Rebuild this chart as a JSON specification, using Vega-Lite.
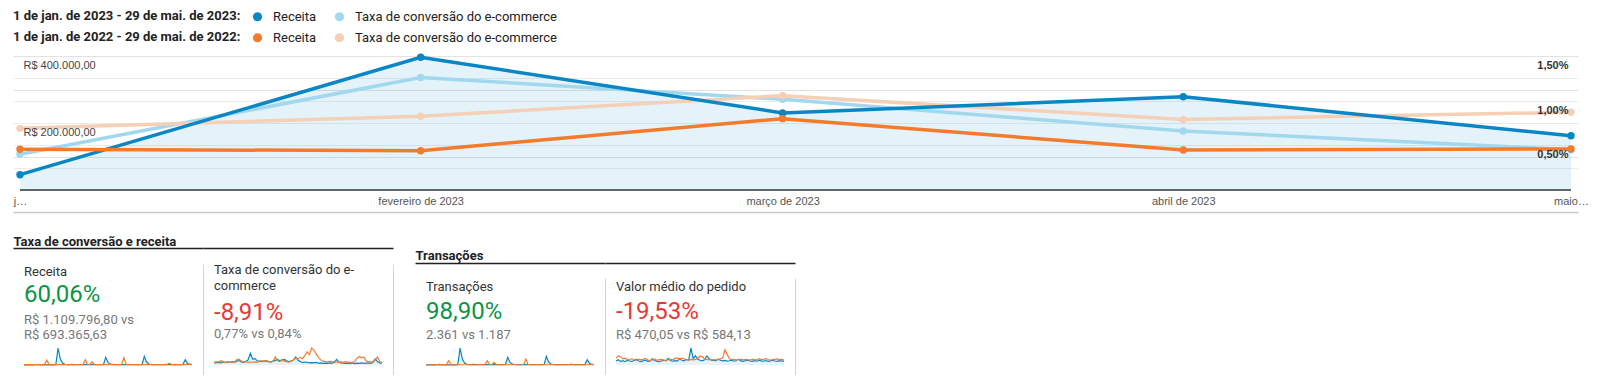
{
  "$schema": "https://vega.github.io/schema/vega-lite/v6.json",
  "background": "white",
  "padding": {"left": 13, "top": 10, "right": 0, "bottom": 0},
  "datasets": {
    "mensal": [
      {"mes": "2023-01-01", "periodo": "2023", "receita": 45700, "taxa": 0.40},
      {"mes": "2023-02-01", "periodo": "2023", "receita": 396100, "taxa": 1.26},
      {"mes": "2023-03-01", "periodo": "2023", "receita": 230000, "taxa": 1.015},
      {"mes": "2023-04-01", "periodo": "2023", "receita": 278500, "taxa": 0.66},
      {"mes": "2023-05-01", "periodo": "2023", "receita": 162100, "taxa": 0.45},
      {"mes": "2023-01-01", "periodo": "2022", "receita": 121500, "taxa": 0.69},
      {"mes": "2023-02-01", "periodo": "2022", "receita": 117300, "taxa": 0.825},
      {"mes": "2023-03-01", "periodo": "2022", "receita": 213000, "taxa": 1.056},
      {"mes": "2023-04-01", "periodo": "2022", "receita": 119400, "taxa": 0.79},
      {"mes": "2023-05-01", "periodo": "2022", "receita": 122400, "taxa": 0.87}
    ],
    "kpis": [
      {"painel": "Receita", "elemento": "métrica", "texto": "Receita"},
      {"painel": "Receita", "elemento": "variação", "texto": "60,06%"},
      {"painel": "Receita", "elemento": "comparação", "texto": ["R$ 1.109.796,80 vs", "R$ 693.365,63"]},
      {"painel": "Taxa", "elemento": "métrica", "texto": ["Taxa de conversão do e-", "commerce"]},
      {"painel": "Taxa", "elemento": "variação", "texto": "-8,91%"},
      {"painel": "Taxa", "elemento": "comparação", "texto": "0,77% vs 0,84%"},
      {"painel": "Transações", "elemento": "métrica", "texto": "Transações"},
      {"painel": "Transações", "elemento": "variação", "texto": "98,90%"},
      {"painel": "Transações", "elemento": "comparação", "texto": "2.361 vs 1.187"},
      {"painel": "Valor", "elemento": "métrica", "texto": "Valor médio do pedido"},
      {"painel": "Valor", "elemento": "variação", "texto": "-19,53%"},
      {"painel": "Valor", "elemento": "comparação", "texto": "R$ 470,05 vs R$ 584,13"}
    ],
    "diario": [
      {"dia": 1, "r23": 1200, "r22": 2500, "c23": 0.5, "c22": 0.6, "t23": 3, "t22": 4, "v23": 420, "v22": 700},
      {"dia": 3, "r23": 2000, "r22": 3000, "c23": 0.55, "c22": 0.8, "t23": 4, "t22": 5, "v23": 560, "v22": 960},
      {"dia": 5, "r23": 1500, "r22": 2800, "c23": 0.6, "c22": 0.7, "t23": 3, "t22": 5, "v23": 380, "v22": 880},
      {"dia": 7, "r23": 1800, "r22": 3200, "c23": 0.5, "c22": 1.0, "t23": 4, "t22": 5, "v23": 450, "v22": 650},
      {"dia": 9, "r23": 1300, "r22": 2600, "c23": 0.7, "c22": 0.8, "t23": 3, "t22": 4, "v23": 350, "v22": 720},
      {"dia": 11, "r23": 2500, "r22": 3000, "c23": 0.55, "c22": 0.6, "t23": 5, "t22": 5, "v23": 500, "v22": 600},
      {"dia": 13, "r23": 5000, "r22": 2800, "c23": 0.8, "c22": 0.75, "t23": 11, "t22": 5, "v23": 420, "v22": 520},
      {"dia": 15, "r23": 1800, "r22": 3400, "c23": 0.6, "c22": 0.65, "t23": 4, "t22": 6, "v23": 380, "v22": 680},
      {"dia": 17, "r23": 1600, "r22": 3000, "c23": 0.75, "c22": 0.8, "t23": 3, "t22": 5, "v23": 470, "v22": 560},
      {"dia": 19, "r23": 1400, "r22": 4000, "c23": 0.6, "c22": 0.7, "t23": 3, "t22": 7, "v23": 600, "v22": 500},
      {"dia": 21, "r23": 1900, "r22": 47000, "c23": 0.9, "c22": 1.2, "t23": 4, "t22": 86, "v23": 420, "v22": 620},
      {"dia": 23, "r23": 2200, "r22": 6000, "c23": 1.05, "c22": 1.35, "t23": 5, "t22": 10, "v23": 360, "v22": 540},
      {"dia": 25, "r23": 1600, "r22": 3000, "c23": 0.7, "c22": 0.9, "t23": 3, "t22": 5, "v23": 450, "v22": 600},
      {"dia": 27, "r23": 1800, "r22": 2800, "c23": 0.6, "c22": 0.7, "t23": 4, "t22": 5, "v23": 500, "v22": 700},
      {"dia": 29, "r23": 2100, "r22": 3100, "c23": 0.8, "c22": 0.8, "t23": 5, "t22": 5, "v23": 380, "v22": 520},
      {"dia": 31, "r23": 160000, "r22": 2900, "c23": 1.2, "c22": 0.6, "t23": 340, "t22": 5, "v23": 420, "v22": 480},
      {"dia": 33, "r23": 55000, "r22": 2700, "c23": 2.75, "c22": 0.7, "t23": 118, "t22": 5, "v23": 650, "v22": 560},
      {"dia": 35, "r23": 18000, "r22": 3200, "c23": 1.4, "c22": 0.65, "t23": 38, "t22": 5, "v23": 480, "v22": 650},
      {"dia": 37, "r23": 7000, "r22": 2800, "c23": 1.5, "c22": 0.75, "t23": 15, "t22": 5, "v23": 400, "v22": 500},
      {"dia": 39, "r23": 4000, "r22": 3000, "c23": 1.0, "c22": 0.6, "t23": 9, "t22": 5, "v23": 350, "v22": 560},
      {"dia": 41, "r23": 3500, "r22": 2900, "c23": 0.9, "c22": 0.9, "t23": 8, "t22": 5, "v23": 420, "v22": 600},
      {"dia": 43, "r23": 5000, "r22": 3100, "c23": 0.8, "c22": 1.0, "t23": 11, "t22": 5, "v23": 520, "v22": 520},
      {"dia": 45, "r23": 3000, "r22": 2700, "c23": 1.0, "c22": 0.8, "t23": 6, "t22": 5, "v23": 450, "v22": 480},
      {"dia": 47, "r23": 2600, "r22": 3000, "c23": 0.9, "c22": 1.1, "t23": 6, "t22": 5, "v23": 700, "v22": 560},
      {"dia": 49, "r23": 3200, "r22": 3300, "c23": 0.8, "c22": 0.85, "t23": 7, "t22": 6, "v23": 480, "v22": 620},
      {"dia": 51, "r23": 2800, "r22": 2900, "c23": 0.7, "c22": 0.75, "t23": 6, "t22": 5, "v23": 400, "v22": 540},
      {"dia": 53, "r23": 3000, "r22": 4000, "c23": 0.9, "c22": 0.9, "t23": 6, "t22": 7, "v23": 460, "v22": 700},
      {"dia": 55, "r23": 3400, "r22": 50000, "c23": 1.1, "c22": 1.9, "t23": 7, "t22": 86, "v23": 420, "v22": 760},
      {"dia": 57, "r23": 2900, "r22": 5000, "c23": 1.3, "c22": 1.0, "t23": 6, "t22": 9, "v23": 650, "v22": 600},
      {"dia": 59, "r23": 3100, "r22": 3200, "c23": 1.0, "c22": 0.8, "t23": 7, "t22": 5, "v23": 500, "v22": 720},
      {"dia": 61, "r23": 2600, "r22": 31000, "c23": 1.2, "c22": 1.3, "t23": 6, "t22": 54, "v23": 450, "v22": 650},
      {"dia": 63, "r23": 3300, "r22": 4000, "c23": 1.3, "c22": 0.9, "t23": 7, "t22": 7, "v23": 600, "v22": 560},
      {"dia": 65, "r23": 2800, "r22": 3000, "c23": 1.0, "c22": 0.8, "t23": 6, "t22": 5, "v23": 520, "v22": 520},
      {"dia": 67, "r23": 3000, "r22": 3300, "c23": 0.8, "c22": 0.7, "t23": 6, "t22": 6, "v23": 1800, "v22": 600},
      {"dia": 69, "r23": 2700, "r22": 2900, "c23": 0.9, "c22": 0.9, "t23": 6, "t22": 5, "v23": 700, "v22": 540},
      {"dia": 71, "r23": 4000, "r22": 3100, "c23": 1.2, "c22": 1.2, "t23": 9, "t22": 5, "v23": 980, "v22": 600},
      {"dia": 73, "r23": 72000, "r22": 3400, "c23": 1.9, "c22": 1.6, "t23": 154, "t22": 6, "v23": 600, "v22": 700},
      {"dia": 75, "r23": 24000, "r22": 3000, "c23": 1.1, "c22": 1.4, "t23": 51, "t22": 5, "v23": 500, "v22": 950},
      {"dia": 77, "r23": 8000, "r22": 3200, "c23": 0.8, "c22": 1.8, "t23": 17, "t22": 5, "v23": 450, "v22": 900},
      {"dia": 79, "r23": 4500, "r22": 2800, "c23": 0.6, "c22": 1.5, "t23": 10, "t22": 5, "v23": 560, "v22": 620},
      {"dia": 81, "r23": 3800, "r22": 3300, "c23": 0.7, "c22": 2.2, "t23": 8, "t22": 6, "v23": 950, "v22": 560},
      {"dia": 83, "r23": 3400, "r22": 3000, "c23": 0.6, "c22": 3.1, "t23": 7, "t22": 5, "v23": 700, "v22": 600},
      {"dia": 85, "r23": 3600, "r22": 3500, "c23": 0.5, "c22": 2.4, "t23": 8, "t22": 6, "v23": 520, "v22": 520},
      {"dia": 87, "r23": 3200, "r22": 5000, "c23": 0.55, "c22": 4.0, "t23": 7, "t22": 9, "v23": 480, "v22": 580},
      {"dia": 89, "r23": 3000, "r22": 69000, "c23": 0.5, "c22": 3.5, "t23": 6, "t22": 120, "v23": 450, "v22": 540},
      {"dia": 91, "r23": 3500, "r22": 6000, "c23": 0.6, "c22": 2.6, "t23": 7, "t22": 10, "v23": 620, "v22": 600},
      {"dia": 93, "r23": 3800, "r22": 3500, "c23": 0.45, "c22": 1.8, "t23": 8, "t22": 6, "v23": 500, "v22": 640},
      {"dia": 95, "r23": 3300, "r22": 3200, "c23": 0.5, "c22": 1.2, "t23": 7, "t22": 5, "v23": 430, "v22": 760},
      {"dia": 97, "r23": 3600, "r22": 3000, "c23": 0.4, "c22": 0.9, "t23": 8, "t22": 5, "v23": 480, "v22": 1610},
      {"dia": 99, "r23": 4000, "r22": 3300, "c23": 0.45, "c22": 0.8, "t23": 9, "t22": 6, "v23": 410, "v22": 1100},
      {"dia": 101, "r23": 3500, "r22": 3100, "c23": 0.4, "c22": 0.7, "t23": 7, "t22": 5, "v23": 450, "v22": 650},
      {"dia": 103, "r23": 3800, "r22": 2900, "c23": 0.5, "c22": 0.9, "t23": 8, "t22": 5, "v23": 520, "v22": 560},
      {"dia": 105, "r23": 4200, "r22": 3400, "c23": 0.45, "c22": 0.75, "t23": 9, "t22": 6, "v23": 400, "v22": 600},
      {"dia": 107, "r23": 82000, "r22": 3200, "c23": 0.6, "c22": 0.8, "t23": 174, "t22": 5, "v23": 470, "v22": 520},
      {"dia": 109, "r23": 28000, "r22": 3000, "c23": 1.3, "c22": 0.7, "t23": 60, "t22": 5, "v23": 620, "v22": 560},
      {"dia": 111, "r23": 9000, "r22": 3300, "c23": 0.7, "c22": 0.6, "t23": 19, "t22": 6, "v23": 430, "v22": 620},
      {"dia": 113, "r23": 5000, "r22": 3500, "c23": 0.5, "c22": 0.75, "t23": 11, "t22": 6, "v23": 380, "v22": 540},
      {"dia": 115, "r23": 4200, "r22": 3100, "c23": 0.45, "c22": 0.65, "t23": 9, "t22": 5, "v23": 450, "v22": 600},
      {"dia": 117, "r23": 3800, "r22": 2900, "c23": 0.4, "c22": 0.8, "t23": 8, "t22": 5, "v23": 520, "v22": 560},
      {"dia": 119, "r23": 4000, "r22": 3200, "c23": 0.45, "c22": 0.7, "t23": 9, "t22": 5, "v23": 420, "v22": 520},
      {"dia": 121, "r23": 3600, "r22": 3400, "c23": 0.4, "c22": 0.6, "t23": 8, "t22": 6, "v23": 380, "v22": 600},
      {"dia": 123, "r23": 3400, "r22": 3000, "c23": 0.5, "c22": 0.65, "t23": 7, "t22": 5, "v23": 460, "v22": 560},
      {"dia": 125, "r23": 3800, "r22": 3300, "c23": 0.35, "c22": 0.8, "t23": 8, "t22": 6, "v23": 400, "v22": 540},
      {"dia": 127, "r23": 3500, "r22": 5000, "c23": 0.45, "c22": 1.6, "t23": 7, "t22": 9, "v23": 520, "v22": 680},
      {"dia": 129, "r23": 3200, "r22": 16000, "c23": 0.4, "c22": 2.0, "t23": 7, "t22": 20, "v23": 440, "v22": 600},
      {"dia": 131, "r23": 3000, "r22": 4000, "c23": 0.5, "c22": 1.7, "t23": 6, "t22": 7, "v23": 400, "v22": 560},
      {"dia": 133, "r23": 3400, "r22": 3200, "c23": 0.4, "c22": 1.9, "t23": 7, "t22": 5, "v23": 470, "v22": 700},
      {"dia": 135, "r23": 2800, "r22": 3000, "c23": 0.45, "c22": 1.0, "t23": 6, "t22": 5, "v23": 380, "v22": 580},
      {"dia": 137, "r23": 3000, "r22": 3300, "c23": 0.5, "c22": 0.8, "t23": 6, "t22": 6, "v23": 430, "v22": 520},
      {"dia": 139, "r23": 3200, "r22": 3100, "c23": 0.4, "c22": 0.7, "t23": 7, "t22": 5, "v23": 500, "v22": 560},
      {"dia": 141, "r23": 3600, "r22": 2900, "c23": 0.6, "c22": 0.8, "t23": 8, "t22": 5, "v23": 420, "v22": 600},
      {"dia": 143, "r23": 50000, "r22": 3200, "c23": 1.4, "c22": 1.1, "t23": 106, "t22": 5, "v23": 380, "v22": 640},
      {"dia": 145, "r23": 17000, "r22": 3600, "c23": 0.8, "c22": 1.9, "t23": 36, "t22": 6, "v23": 460, "v22": 560},
      {"dia": 147, "r23": 5000, "r22": 9000, "c23": 0.5, "c22": 0.9, "t23": 11, "t22": 15, "v23": 420, "v22": 600},
      {"dia": 149, "r23": 3000, "r22": 3000, "c23": 0.45, "c22": 0.5, "t23": 6, "t22": 5, "v23": 400, "v22": 520}
    ]
  },
  "vconcat": [
    {
      "width": 1565,
      "height": 134,
      "data": {"name": "mensal"},
      "encoding": {
        "x": {"field": "mes", "type": "temporal", "scale": {"type": "utc", "nice": false, "padding": 7},
          "axis": {"orient": "bottom", "offset": 22, "title": null, "grid": false, "domainColor": "#cccccc", "domainWidth": 1.5, "ticks": false, "tickSize": 0, "labelPadding": -11, "labelBaseline": "middle", "labelAlign": "center", "labelFlush": false, "labelOverlap": false, "labelBound": false, "labelFont": "Liberation Sans", "labelFontSize": 11, "labelColor": "#555555",
            "values": [{"year": 2023, "month": 1, "date": 1, "utc": true}, {"year": 2023, "month": 2, "date": 1, "utc": true}, {"year": 2023, "month": 3, "date": 1, "utc": true}, {"year": 2023, "month": 4, "date": 1, "utc": true}, {"year": 2023, "month": 5, "date": 1, "utc": true}],
            "labelExpr": "utcmonth(datum.value) == 0 ? 'j…' : utcmonth(datum.value) == 4 ? 'maio…' : utcFormat(datum.value, '%B de %Y')"}}
      },
      "layer": [
        {
          "transform": [{"filter": "datum.periodo == '2023'"}],
          "mark": {"type": "area", "color": "#058dc7", "opacity": 0.11},
          "encoding": {
            "y": {"field": "receita", "type": "quantitative", "scale": {"domain": [0, 400000], "nice": false},
              "axis": {"orient": "left", "values": [100000, 200000, 300000, 400000], "grid": true, "gridColor": "#e2e2e2", "labels": false, "domain": false, "ticks": false, "title": null, "zindex": 0}}
          }
        },
        {
          "encoding": {
            "y": {"field": "taxa", "type": "quantitative", "scale": {"domain": [0, 1.5], "nice": false},
              "axis": {"orient": "right", "values": [0.25, 0.5, 0.75, 1, 1.25], "grid": true, "gridColor": "#ebebeb", "labels": false, "domain": false, "ticks": false, "title": null, "zindex": 0}}
          },
          "layer": [
            {"transform": [{"filter": "datum.periodo == '2023'"}], "mark": {"type": "line", "strokeWidth": 3.5, "color": "#a1d8ee"}},
            {"transform": [{"filter": "datum.periodo == '2023'"}], "mark": {"type": "point", "filled": true, "size": 55, "opacity": 1},
              "encoding": {"color": {"datum": "Taxa de conversão do e-commerce", "scale": {"domain": ["Receita", "Taxa de conversão do e-commerce"], "range": ["#0a86c5", "#a1d8ee"]},
                "legend": {"title": "1 de jan. de 2023 - 29 de mai. de 2023:", "orient": "none", "legendX": 0, "legendY": -46, "direction": "horizontal", "titleOrient": "left", "titleAnchor": "start", "titleBaseline": "top", "titleFont": "Roboto", "titleFontSize": 13, "titleFontWeight": "bold", "titleColor": "#222222", "titlePadding": 10, "titleLimit": 500, "symbolType": "circle", "symbolSize": 85, "symbolStrokeWidth": 0, "labelFont": "Roboto", "labelFontSize": 13, "labelColor": "#222222", "labelOffset": 9, "labelLimit": 500, "columnPadding": 16}}}},
            {"transform": [{"filter": "datum.periodo == '2022'"}], "mark": {"type": "line", "strokeWidth": 3.5, "color": "#f5cfb6"}},
            {"transform": [{"filter": "datum.periodo == '2022'"}], "mark": {"type": "point", "filled": true, "size": 55, "opacity": 1},
              "encoding": {"fill": {"datum": "Taxa de conversão do e-commerce 2022", "scale": {"domain": ["Receita 2022", "Taxa de conversão do e-commerce 2022"], "range": ["#f47b2c", "#f5cfb6"]},
                "legend": {"title": "1 de jan. de 2022 - 29 de mai. de 2022:", "labelExpr": "replace(datum.label, ' 2022', '')", "orient": "none", "legendX": 0, "legendY": -25, "direction": "horizontal", "titleOrient": "left", "titleAnchor": "start", "titleBaseline": "top", "titleFont": "Roboto", "titleFontSize": 13, "titleFontWeight": "bold", "titleColor": "#222222", "titlePadding": 10, "titleLimit": 500, "symbolType": "circle", "symbolSize": 85, "symbolStrokeWidth": 0, "labelFont": "Roboto", "labelFontSize": 13, "labelColor": "#222222", "labelOffset": 9, "labelLimit": 500, "columnPadding": 16}}}}
          ]
        },
        {
          "encoding": {
            "y": {"field": "receita", "type": "quantitative", "scale": {"domain": [0, 400000], "nice": false},
              "axis": {"orient": "left", "values": [200000, 400000], "grid": false, "domain": false, "ticks": false, "tickSize": 0, "labelAlign": "left", "labelBaseline": "top", "labelPadding": -10, "labelOffset": 3.5, "labelOverlap": false, "labelBound": false, "labelExpr": "format(datum.value, '$,.2f')", "labelFont": "Liberation Sans", "labelFontSize": 11, "labelColor": "#444444", "title": null, "zindex": 1}}
          },
          "layer": [
            {"transform": [{"filter": "datum.periodo == '2023'"}], "mark": {"type": "line", "strokeWidth": 3.5, "color": "#0a86c5"}},
            {"transform": [{"filter": "datum.periodo == '2023'"}], "mark": {"type": "point", "filled": true, "size": 55, "opacity": 1},
              "encoding": {"color": {"datum": "Receita", "scale": {"domain": ["Receita", "Taxa de conversão do e-commerce"], "range": ["#0a86c5", "#a1d8ee"]},
                "legend": {"title": "1 de jan. de 2023 - 29 de mai. de 2023:", "orient": "none", "legendX": 0, "legendY": -46, "direction": "horizontal", "titleOrient": "left", "titleAnchor": "start", "titleBaseline": "top", "titleFont": "Roboto", "titleFontSize": 13, "titleFontWeight": "bold", "titleColor": "#222222", "titlePadding": 10, "titleLimit": 500, "symbolType": "circle", "symbolSize": 85, "symbolStrokeWidth": 0, "labelFont": "Roboto", "labelFontSize": 13, "labelColor": "#222222", "labelOffset": 9, "labelLimit": 500, "columnPadding": 16}}}},
            {"transform": [{"filter": "datum.periodo == '2022'"}], "mark": {"type": "line", "strokeWidth": 3.5, "color": "#f47b2c"}},
            {"transform": [{"filter": "datum.periodo == '2022'"}], "mark": {"type": "point", "filled": true, "size": 55, "opacity": 1},
              "encoding": {"fill": {"datum": "Receita 2022", "scale": {"domain": ["Receita 2022", "Taxa de conversão do e-commerce 2022"], "range": ["#f47b2c", "#f5cfb6"]},
                "legend": {"title": "1 de jan. de 2022 - 29 de mai. de 2022:", "labelExpr": "replace(datum.label, ' 2022', '')", "orient": "none", "legendX": 0, "legendY": -25, "direction": "horizontal", "titleOrient": "left", "titleAnchor": "start", "titleBaseline": "top", "titleFont": "Roboto", "titleFontSize": 13, "titleFontWeight": "bold", "titleColor": "#222222", "titlePadding": 10, "titleLimit": 500, "symbolType": "circle", "symbolSize": 85, "symbolStrokeWidth": 0, "labelFont": "Roboto", "labelFontSize": 13, "labelColor": "#222222", "labelOffset": 9, "labelLimit": 500, "columnPadding": 16}}}}
          ]
        },
        {
          "mark": {"type": "rule", "color": "#333333", "strokeWidth": 1.5},
          "encoding": {
            "x": {"aggregate": "min", "field": "mes", "type": "temporal", "scale": {"type": "utc", "nice": false, "padding": 7},
              "axis": {"orient": "bottom", "offset": 22, "title": null, "grid": false, "domainColor": "#cccccc", "domainWidth": 1.5, "ticks": false, "tickSize": 0, "labelPadding": -11, "labelBaseline": "middle", "labelAlign": "center", "labelFlush": false, "labelOverlap": false, "labelBound": false, "labelFont": "Liberation Sans", "labelFontSize": 11, "labelColor": "#555555",
                "values": [{"year": 2023, "month": 1, "date": 1, "utc": true}, {"year": 2023, "month": 2, "date": 1, "utc": true}, {"year": 2023, "month": 3, "date": 1, "utc": true}, {"year": 2023, "month": 4, "date": 1, "utc": true}, {"year": 2023, "month": 5, "date": 1, "utc": true}],
                "labelExpr": "utcmonth(datum.value) == 0 ? 'j…' : utcmonth(datum.value) == 4 ? 'maio…' : utcFormat(datum.value, '%B de %Y')"}},
            "x2": {"aggregate": "max", "field": "mes"},
            "y": {"datum": 0, "type": "quantitative", "scale": {"domain": [0, 1.5], "nice": false},
              "axis": {"orient": "right", "values": [0.5, 1, 1.5], "grid": false, "domain": false, "ticks": false, "tickSize": 0, "labelAlign": "right", "labelBaseline": "top", "labelPadding": -10, "labelOffset": 3.5, "labelOverlap": false, "labelBound": false, "labelExpr": "format(datum.value, '.2f') + '%'", "labelFont": "Liberation Sans", "labelFontSize": 11, "labelFontWeight": "bold", "labelColor": "#333333", "title": null, "zindex": 1}}
          }
        }
      ],
      "resolve": {"scale": {"y": "independent"}}
    },
    {
      "hconcat": [
        {
          "width": 190, "height": 111,
          "layer": [
            {
              "data": {"name": "diario"},
              "encoding": {"x": {"field": "dia", "type": "quantitative", "scale": {"domain": [1, 149], "padding": 11, "nice": false, "zero": false},
                "axis": {"orient": "top", "offset": 16, "grid": false, "ticks": false, "labels": false, "domain": true, "domainColor": "#222222", "domainWidth": 1.5, "title": "Taxa de conversão e receita", "titleAnchor": "start", "titleAlign": "left", "titleBaseline": "bottom", "titlePadding": 0, "titleFont": "Roboto", "titleFontSize": 13, "titleFontWeight": "bold", "titleColor": "#222222"}}},
              "layer": [
                {"mark": {"type": "area", "color": "#058dc7", "opacity": 0.1}, "encoding": {"y": {"field": "r23", "type": "quantitative", "scale": {"domain": [0, 160000], "range": [101, 84], "nice": false, "zero": true}, "axis": null}}},
                {"mark": {"type": "line", "color": "#0a86c5", "strokeWidth": 1.2}, "encoding": {"y": {"field": "r23", "type": "quantitative", "scale": {"domain": [0, 160000], "range": [101, 84], "nice": false, "zero": true}, "axis": null}}},
                {"mark": {"type": "line", "color": "#f47b2c", "strokeWidth": 1.2}, "encoding": {"y": {"field": "r22", "type": "quantitative", "scale": {"domain": [0, 160000], "range": [101, 84], "nice": false, "zero": true}, "axis": null}}}
              ]
            },
            {
              "data": {"name": "kpis"},
              "transform": [{"filter": "datum.painel == 'Receita'"}],
              "encoding": {
                "x": {"datum": 1, "type": "quantitative", "scale": {"domain": [1, 149], "padding": 11, "nice": false, "zero": false},
                  "axis": {"orient": "top", "offset": 16, "grid": false, "ticks": false, "labels": false, "domain": true, "domainColor": "#222222", "domainWidth": 1.5, "title": "Taxa de conversão e receita", "titleAnchor": "start", "titleAlign": "left", "titleBaseline": "bottom", "titlePadding": 0, "titleFont": "Roboto", "titleFontSize": 13, "titleFontWeight": "bold", "titleColor": "#222222"}},
                "y": {"field": "elemento", "type": "nominal", "scale": {"type": "point", "domain": ["métrica", "variação", "comparação", "gráfico"], "range": [0, 111], "padding": 0.414, "align": 0.0958},
                  "axis": {"orient": "right", "domain": true, "domainColor": "#d4d4d4", "ticks": false, "labels": false, "grid": false, "title": null}},
                "text": {"field": "texto"}
              },
              "layer": [
                {"transform": [{"filter": "datum.elemento == 'métrica'"}], "mark": {"type": "text", "align": "left", "baseline": "top", "font": "Roboto", "fontSize": 13, "color": "#333333", "lineHeight": 15.5}},
                {"transform": [{"filter": "datum.elemento == 'variação'"}], "mark": {"type": "text", "align": "left", "baseline": "middle", "font": "Roboto", "fontSize": 24},
                  "encoding": {"color": {"condition": {"test": "indexof(datum.texto, '-') == 0", "value": "#e53935"}, "value": "#0b9446"}}},
                {"transform": [{"filter": "datum.elemento == 'comparação'"}], "mark": {"type": "text", "align": "left", "baseline": "alphabetic", "font": "Roboto", "fontSize": 13, "color": "#777777", "lineHeight": 14.5}}
              ]
            }
          ],
          "resolve": {"scale": {"y": "independent"}}
        },
        {
          "width": 190, "height": 111,
          "layer": [
            {
              "data": {"name": "diario"},
              "encoding": {"x": {"field": "dia", "type": "quantitative", "scale": {"domain": [1, 149], "padding": 11, "nice": false, "zero": false},
                "axis": {"orient": "top", "offset": 16, "grid": false, "ticks": false, "labels": false, "domain": true, "domainColor": "#222222", "domainWidth": 1.5, "title": null}}},
              "layer": [
                {"mark": {"type": "area", "color": "#058dc7", "opacity": 0.1}, "encoding": {"y": {"field": "c23", "type": "quantitative", "scale": {"domain": [0, 4], "range": [101, 84], "nice": false, "zero": true}, "axis": null}}},
                {"mark": {"type": "line", "color": "#0a86c5", "strokeWidth": 1.2}, "encoding": {"y": {"field": "c23", "type": "quantitative", "scale": {"domain": [0, 4], "range": [101, 84], "nice": false, "zero": true}, "axis": null}}},
                {"mark": {"type": "line", "color": "#f47b2c", "strokeWidth": 1.2}, "encoding": {"y": {"field": "c22", "type": "quantitative", "scale": {"domain": [0, 4], "range": [101, 84], "nice": false, "zero": true}, "axis": null}}}
              ]
            },
            {
              "data": {"name": "kpis"},
              "transform": [{"filter": "datum.painel == 'Taxa'"}],
              "encoding": {
                "x": {"datum": 1, "type": "quantitative", "scale": {"domain": [1, 149], "padding": 11, "nice": false, "zero": false},
                  "axis": {"orient": "top", "offset": 16, "grid": false, "ticks": false, "labels": false, "domain": true, "domainColor": "#222222", "domainWidth": 1.5, "title": null}},
                "y": {"field": "elemento", "type": "nominal", "scale": {"type": "point", "domain": ["métrica", "variação", "comparação", "gráfico"], "range": [0, 111], "padding": 0, "align": 0},
                  "axis": {"orient": "right", "domain": true, "domainColor": "#d4d4d4", "ticks": false, "labels": false, "grid": false, "title": null}},
                "text": {"field": "texto"}
              },
              "layer": [
                {"transform": [{"filter": "datum.elemento == 'métrica'"}], "mark": {"type": "text", "align": "left", "baseline": "top", "font": "Roboto", "fontSize": 13, "color": "#333333", "lineHeight": 15.5}},
                {"transform": [{"filter": "datum.elemento == 'variação'"}], "mark": {"type": "text", "align": "left", "baseline": "top", "font": "Roboto", "fontSize": 24},
                  "encoding": {"color": {"condition": {"test": "indexof(datum.texto, '-') == 0", "value": "#e53935"}, "value": "#0b9446"}}},
                {"transform": [{"filter": "datum.elemento == 'comparação'"}], "mark": {"type": "text", "align": "left", "baseline": "alphabetic", "font": "Roboto", "fontSize": 13, "color": "#777777", "lineHeight": 14.5}}
              ]
            }
          ],
          "resolve": {"scale": {"y": "independent"}}
        },
        {"width": 22, "height": 111, "data": {"values": []}, "mark": "point", "encoding": {}},
        {
          "width": 190, "height": 111,
          "layer": [
            {
              "data": {"name": "diario"},
              "encoding": {"x": {"field": "dia", "type": "quantitative", "scale": {"domain": [1, 149], "padding": 11, "nice": false, "zero": false},
                "axis": {"orient": "top", "offset": 1, "grid": false, "ticks": false, "labels": false, "domain": true, "domainColor": "#222222", "domainWidth": 1.5, "title": "Transações", "titleAnchor": "start", "titleAlign": "left", "titleBaseline": "bottom", "titlePadding": 1, "titleFont": "Roboto", "titleFontSize": 13, "titleFontWeight": "bold", "titleColor": "#222222"}}},
              "layer": [
                {"mark": {"type": "area", "color": "#058dc7", "opacity": 0.1}, "encoding": {"y": {"field": "t23", "type": "quantitative", "scale": {"domain": [0, 340], "range": [101, 84], "nice": false, "zero": true}, "axis": null}}},
                {"mark": {"type": "line", "color": "#0a86c5", "strokeWidth": 1.2}, "encoding": {"y": {"field": "t23", "type": "quantitative", "scale": {"domain": [0, 340], "range": [101, 84], "nice": false, "zero": true}, "axis": null}}},
                {"mark": {"type": "line", "color": "#f47b2c", "strokeWidth": 1.2}, "encoding": {"y": {"field": "t22", "type": "quantitative", "scale": {"domain": [0, 340], "range": [101, 84], "nice": false, "zero": true}, "axis": null}}}
              ]
            },
            {
              "data": {"name": "kpis"},
              "transform": [{"filter": "datum.painel == 'Transações'"}],
              "encoding": {
                "x": {"datum": 1, "type": "quantitative", "scale": {"domain": [1, 149], "padding": 11, "nice": false, "zero": false},
                  "axis": {"orient": "top", "offset": 1, "grid": false, "ticks": false, "labels": false, "domain": true, "domainColor": "#222222", "domainWidth": 1.5, "title": "Transações", "titleAnchor": "start", "titleAlign": "left", "titleBaseline": "bottom", "titlePadding": 1, "titleFont": "Roboto", "titleFontSize": 13, "titleFontWeight": "bold", "titleColor": "#222222"}},
                "y": {"field": "elemento", "type": "nominal", "scale": {"type": "point", "domain": ["métrica", "variação", "comparação", "gráfico"], "range": [14, 111], "padding": 0.0446, "align": 0.93},
                  "axis": {"orient": "right", "domain": true, "domainColor": "#d4d4d4", "ticks": false, "labels": false, "grid": false, "title": null}},
                "text": {"field": "texto"}
              },
              "layer": [
                {"transform": [{"filter": "datum.elemento == 'métrica'"}], "mark": {"type": "text", "align": "left", "baseline": "top", "font": "Roboto", "fontSize": 13, "color": "#333333", "lineHeight": 15.5}},
                {"transform": [{"filter": "datum.elemento == 'variação'"}], "mark": {"type": "text", "align": "left", "baseline": "middle", "font": "Roboto", "fontSize": 24},
                  "encoding": {"color": {"condition": {"test": "indexof(datum.texto, '-') == 0", "value": "#e53935"}, "value": "#0b9446"}}},
                {"transform": [{"filter": "datum.elemento == 'comparação'"}], "mark": {"type": "text", "align": "left", "baseline": "line-bottom", "font": "Roboto", "fontSize": 13, "color": "#777777", "lineHeight": 16}}
              ]
            }
          ],
          "resolve": {"scale": {"y": "independent"}}
        },
        {
          "width": 190, "height": 111,
          "layer": [
            {
              "data": {"name": "diario"},
              "encoding": {"x": {"field": "dia", "type": "quantitative", "scale": {"domain": [1, 149], "padding": 11, "nice": false, "zero": false},
                "axis": {"orient": "top", "offset": 1, "grid": false, "ticks": false, "labels": false, "domain": true, "domainColor": "#222222", "domainWidth": 1.5, "title": null}}},
              "layer": [
                {"mark": {"type": "area", "color": "#058dc7", "opacity": 0.1}, "encoding": {"y": {"field": "v23", "type": "quantitative", "scale": {"domain": [0, 1800], "range": [101, 84], "nice": false, "zero": true}, "axis": null}}},
                {"mark": {"type": "line", "color": "#0a86c5", "strokeWidth": 1.2}, "encoding": {"y": {"field": "v23", "type": "quantitative", "scale": {"domain": [0, 1800], "range": [101, 84], "nice": false, "zero": true}, "axis": null}}},
                {"mark": {"type": "line", "color": "#f47b2c", "strokeWidth": 1.2}, "encoding": {"y": {"field": "v22", "type": "quantitative", "scale": {"domain": [0, 1800], "range": [101, 84], "nice": false, "zero": true}, "axis": null}}}
              ]
            },
            {
              "data": {"name": "kpis"},
              "transform": [{"filter": "datum.painel == 'Valor'"}],
              "encoding": {
                "x": {"datum": 1, "type": "quantitative", "scale": {"domain": [1, 149], "padding": 11, "nice": false, "zero": false},
                  "axis": {"orient": "top", "offset": 1, "grid": false, "ticks": false, "labels": false, "domain": true, "domainColor": "#222222", "domainWidth": 1.5, "title": null}},
                "y": {"field": "elemento", "type": "nominal", "scale": {"type": "point", "domain": ["métrica", "variação", "comparação", "gráfico"], "range": [14, 111], "padding": 0.0446, "align": 0.93},
                  "axis": {"orient": "right", "domain": true, "domainColor": "#d4d4d4", "ticks": false, "labels": false, "grid": false, "title": null}},
                "text": {"field": "texto"}
              },
              "layer": [
                {"transform": [{"filter": "datum.elemento == 'métrica'"}], "mark": {"type": "text", "align": "left", "baseline": "top", "font": "Roboto", "fontSize": 13, "color": "#333333", "lineHeight": 15.5}},
                {"transform": [{"filter": "datum.elemento == 'variação'"}], "mark": {"type": "text", "align": "left", "baseline": "middle", "font": "Roboto", "fontSize": 24},
                  "encoding": {"color": {"condition": {"test": "indexof(datum.texto, '-') == 0", "value": "#e53935"}, "value": "#0b9446"}}},
                {"transform": [{"filter": "datum.elemento == 'comparação'"}], "mark": {"type": "text", "align": "left", "baseline": "line-bottom", "font": "Roboto", "fontSize": 13, "color": "#777777", "lineHeight": 16}}
              ]
            }
          ],
          "resolve": {"scale": {"y": "independent"}}
        }
      ],
      "spacing": 0,
      "bounds": "flush"
    }
  ],
  "spacing": 74,
  "bounds": "flush",
  "resolve": {"scale": {"color": "independent", "fill": "independent", "stroke": "independent"}},
  "config": {
    "view": {"stroke": null},
    "font": "Roboto",
    "locale": {
      "number": {"decimal": ",", "thousands": ".", "grouping": [3], "currency": ["R$ ", ""]},
      "time": {"dateTime": "%A, %e de %B de %Y. %X", "date": "%d/%m/%Y", "time": "%H:%M:%S", "periods": ["AM", "PM"],
        "days": ["domingo", "segunda", "terça", "quarta", "quinta", "sexta", "sábado"],
        "shortDays": ["dom", "seg", "ter", "qua", "qui", "sex", "sáb"],
        "months": ["janeiro", "fevereiro", "março", "abril", "maio", "junho", "julho", "agosto", "setembro", "outubro", "novembro", "dezembro"],
        "shortMonths": ["jan", "fev", "mar", "abr", "mai", "jun", "jul", "ago", "set", "out", "nov", "dez"]}
    }
  }
}
